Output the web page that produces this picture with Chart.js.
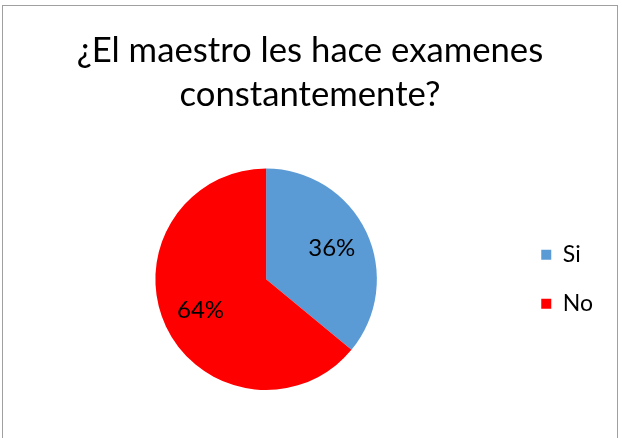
<!DOCTYPE html>
<html>
<head>
<meta charset="utf-8">
<script src="https://cdn.jsdelivr.net/npm/chart.js@4"></script>
<style>
html,body{margin:0;padding:0;background:#fff;width:622px;height:438px;overflow:hidden;}
#frame{position:absolute;left:2px;top:5px;width:616px;height:450px;border:1px solid #a0a0a0;box-sizing:border-box;}
#c{position:absolute;left:0;top:0;}
</style>
</head>
<body>
<div id="frame"></div>
<canvas id="c" width="622" height="438"></canvas>
<script>
const titleLines = ['¿El maestro les hace examenes', 'constantemente?'];
const categories = ['Si', 'No'];
const values = [36, 64];
const pctLabels = ['36%', '64%'];
const colors = ['#5B9BD5', '#FF0000'];

const FONT = 'Lato, "Liberation Sans", sans-serif';

const sliceLabels = {
  id: 'sliceLabels',
  afterDatasetsDraw(chart) {
    const ctx = chart.ctx;
    const meta = chart.getDatasetMeta(0);
    ctx.save();
    ctx.font = '24px ' + FONT;
    ctx.fillStyle = '#000';
    ctx.textAlign = 'center';
    ctx.textBaseline = 'middle';
    meta.data.forEach((arc, i) => {
      const p = arc.getProps(['x','y','startAngle','endAngle','outerRadius']);
      const mid = (p.startAngle + p.endAngle) / 2;
      const r = p.outerRadius * 0.655;
      ctx.fillText(pctLabels[i], p.x + Math.cos(mid) * r, p.y + Math.sin(mid) * r);
    });
    ctx.restore();
  }
};

new Chart(document.getElementById('c'), {
  type: 'pie',
  data: {
    labels: categories,
    datasets: [{ data: values, backgroundColor: colors, borderWidth: 0 }]
  },
  options: {
    responsive: false,
    animation: false,
    layout: { padding: { left: 17, right: 19, top: 0, bottom: 48 } },
    plugins: {
      title: {
        display: true,
        text: titleLines,
        color: '#000',
        font: { family: FONT, size: 34.7, weight: 'normal', lineHeight: 1.29 },
        padding: { top: 28, bottom: 51 }
      },
      legend: {
        position: 'right',
        fullSize: false,
        labels: {
          color: '#000',
          font: { family: FONT, size: 23 },
          boxWidth: 10,
          boxHeight: 10,
          padding: 26
        }
      },
      tooltip: { enabled: false }
    }
  },
  plugins: [sliceLabels]
});
</script>
</body>
</html>
